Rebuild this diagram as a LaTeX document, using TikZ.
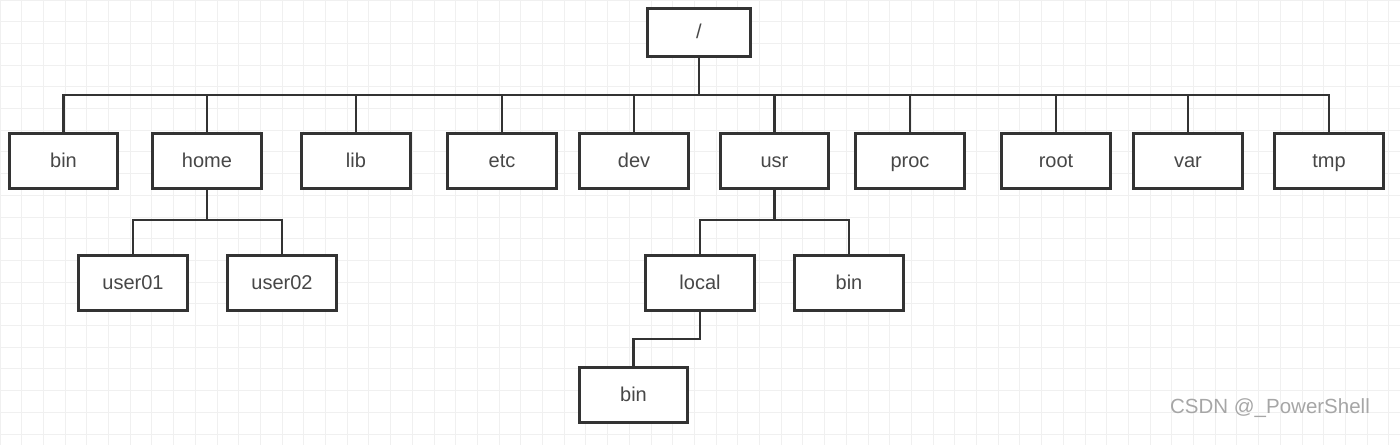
\documentclass[tikz,border=0pt]{standalone}
\usepackage{fontspec}
\setmainfont{Liberation Sans}
\usetikzlibrary{positioning}
\definecolor{boxline}{HTML}{333333}
\definecolor{gridgray}{HTML}{F0F0F0}
\definecolor{markgray}{HTML}{A6A6A6}

\begin{document}
\begin{tikzpicture}[
    x=1pt, y=-1pt,
    dir/.style={
        rectangle,
        draw=boxline,
        fill=white,
        line width=3pt,
        minimum width=108.5pt,
        minimum height=55pt,
        inner sep=0pt,
        font=\fontsize{20}{24}\selectfont,
        text=boxline!90,
        text height=16pt,
        text depth=3pt
    },
    topdir/.style={dir, minimum width=103pt, minimum height=48pt},
    link/.style={draw=boxline, line width=2.5pt},
    gridline/.style={draw=gridgray, line width=1pt}
]
    \useasboundingbox (0,0) rectangle (1400,445);
    % background grid
    \foreach \gx in {0,21.7,...,1400} \draw[gridline] (\gx,0) -- (\gx,445);
    \foreach \gy in {0,21.7,...,445} \draw[gridline] (0,\gy) -- (1400,\gy);

    \node[topdir] (top) at (699,32) {/};

    \node[dir] (bin)     at (63.5,160.5) {bin};
    \node[dir] (home)    at (207,160.5)  {home};
    \node[dir] (lib)     at (356,160.5)  {lib};
    \node[dir] (etc)     at (502,160.5)  {etc};
    \node[dir] (dev)     at (634,160.5)  {dev};
    \node[dir] (usr)     at (774.5,160.5) {usr};
    \node[dir] (proc)    at (910,160.5)  {proc};
    \node[dir] (rootdir) at (1056,160.5) {root};
    \node[dir] (var)     at (1188,160.5) {var};
    \node[dir] (tmp)     at (1329,160.5) {tmp};

    \node[dir] (user01)   at (133,282.5) {user01};
    \node[dir] (user02)   at (282,282.5) {user02};
    \node[dir] (local)    at (700,282.5) {local};
    \node[dir] (usrbin)   at (849,282.5) {bin};
    \node[dir] (localbin) at (633.5,394.5) {bin};

    \coordinate (topbus) at (699,95);
    \coordinate (homebus) at (207,220);
    \coordinate (usrbus) at (774.5,220);
    \coordinate (localbend) at (700,339);

    \draw[link] (top.south) -- (topbus);
    \foreach \c in {bin,home,lib,etc,dev,usr,proc,rootdir,var,tmp}
        \draw[link] (topbus) -| (\c.north);

    \draw[link] (home.south) -- (homebus);
    \foreach \c in {user01,user02}
        \draw[link] (homebus) -| (\c.north);

    \draw[link] (usr.south) -- (usrbus);
    \foreach \c in {local,usrbin}
        \draw[link] (usrbus) -| (\c.north);

    \draw[link] (local.south) -- (localbend) -| (localbin.north);

    \node[text=markgray, font=\fontsize{20.5}{24}\selectfont] (mark) at (1270,408) {CSDN @\_PowerShell};
\end{tikzpicture}
\end{document}
